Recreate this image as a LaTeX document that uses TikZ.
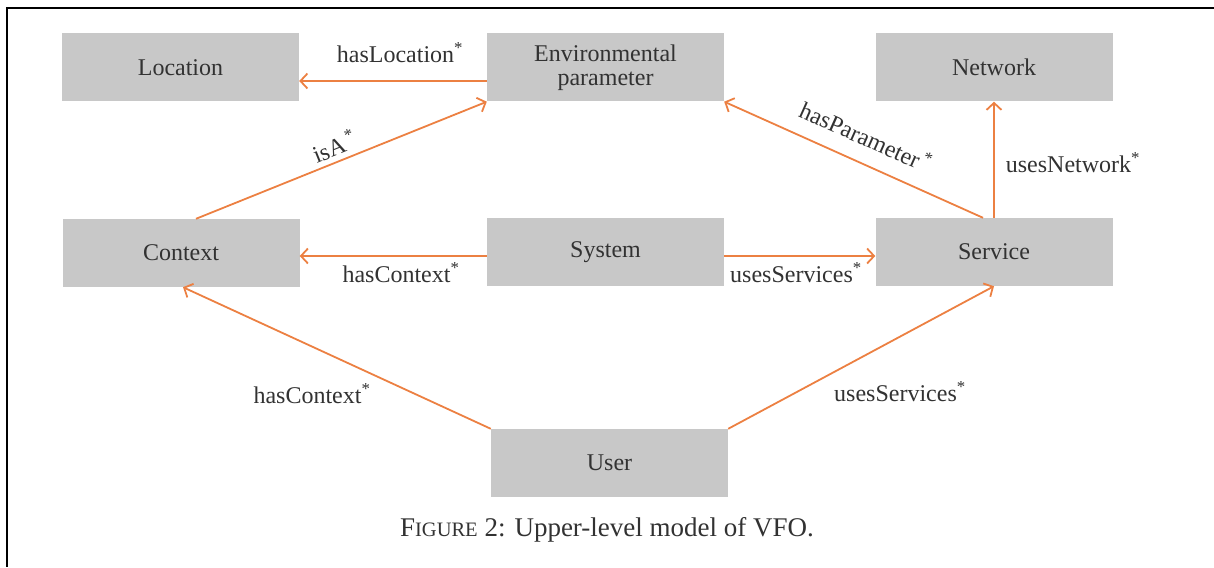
\documentclass[tikz,border=0pt]{standalone}
\usepackage{fontspec}
\setmainfont{Liberation Serif}
\usetikzlibrary{arrows.meta}
\definecolor{boxgray}{RGB}{200,200,200}
\definecolor{relorange}{RGB}{236,128,66}
\definecolor{inkgray}{RGB}{50,50,50}
\begin{document}
\begin{tikzpicture}[x=1pt,y=-1pt,
  cls/.style={rectangle,fill=boxgray,minimum width=237pt,minimum height=68pt,
    inner sep=0pt,text=inkgray,font=\fontsize{24}{24}\selectfont,align=center},
  rel/.style={draw=relorange,line width=1.8pt,-{Straight Barb[length=7pt,width=15pt,line width=1.8pt]}},
  lbl/.style={text=inkgray,font=\fontsize{24}{26}\selectfont,inner sep=0pt}
]
\useasboundingbox (0,0) rectangle (1214,567);
% page frame (left and top edges)
\draw[line width=2.5pt,black] (1214,8) -- (7,8) -- (7,567);

% classes
\node[cls] (loc) at (180.5,67.5) {Location};
\node[cls] (env) at (605.5,67.5) {\raisebox{-3pt}{Environmental}\\\raisebox{-3pt}{parameter}};
\node[cls] (net) at (994,67.5) {Network};
\node[cls] (ctx) at (181,253) {Context};
\node[cls] (sys) at (605.5,252) {System};
\node[cls] (srv) at (994,252) {Service};
\node[cls] (usr) at (609.5,463) {User};

% relations
\draw[rel] ([yshift=-13.5pt]env.west) -- ([yshift=-13.5pt]env.west -| loc.east);
\draw[rel] ([xshift=15pt]ctx.north) -- (env.south west);
\draw[rel] ([xshift=-11pt]srv.north) -- (env.south east);
\draw[rel] (srv.north) -- (net.south);
\draw[rel] ([yshift=-4pt]sys.west) -- ([yshift=-4pt]sys.west -| ctx.east);
\draw[rel] ([yshift=-4pt]sys.east) -- ([yshift=-4pt]sys.east -| srv.west);
\draw[rel] (usr.north west) -- ([xshift=2pt]ctx.south);
\draw[rel] (usr.north east) -- (srv.south);

% relation labels
\node[lbl] (l1) at (400,53) {hasLocation\textsuperscript{*}};
\node[lbl,rotate=21.9] (l2) at (334,146) {isA\textsuperscript{\,*}};
\node[lbl,rotate=-24.1] (l3) at (866,136) {hasParameter\textsuperscript{\,*}};
\node[lbl] (l4) at (1073,163) {usesNetwork\textsuperscript{*}};
\node[lbl] (l5) at (401,273) {hasContext\textsuperscript{*}};
\node[lbl] (l6) at (796,273) {usesServices\textsuperscript{*}};
\node[lbl] (l7) at (312,394) {hasContext\textsuperscript{*}};
\node[lbl] (l8) at (900,392) {usesServices\textsuperscript{*}};

% caption
\node[lbl,font=\fontsize{27}{29}\selectfont] (cap) at (607,530)
  {F{\fontsize{20.5}{22}\selectfont IGURE} 2: Upper-level model of VFO.};
\end{tikzpicture}
\end{document}
